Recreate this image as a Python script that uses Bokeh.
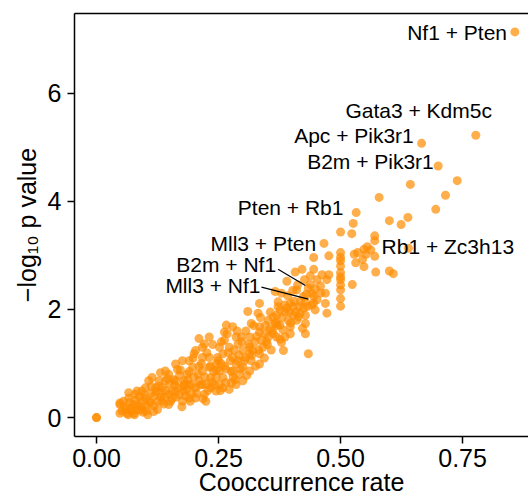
from bokeh.plotting import figure
from bokeh.models import Range1d, FixedTicker, NumeralTickFormatter, LinearAxis, Label
from bokeh.embed import file_html
from bokeh.resources import INLINE

# Co-occurrence rate (x) and -log10 p value (y) for each gene pair
rate = [
    0.857, 0.777, 0.666, 0.700, 0.739, 0.643, 0.715, 0.579, 0.695, 0.532,
    0.526, 0.600, 0.624, 0.638, 0.500, 0.523, 0.570, 0.570, 0.466, 0.555,
    0.548, 0.639, 0.528, 0.535, 0.570, 0.445, 0.476, 0.500, 0.500, 0.531,
    0.548, 0.572, 0.600, 0.608, 0.500, 0.500, 0.524, 0.500, 0.500, 0.472,
    0.469, 0.469, 0.472, 0.445, 0.452, 0.462, 0.421, 0.407, 0.390, 0.410,
    0.434, 0.441, 0.452, 0.428, 0.424, 0.448, 0.428, 0.403, 0.403, 0.390,
    0.379, 0.366, 0.372, 0.376, 0.362, 0.366, 0.376, 0.393, 0.397, 0.410,
    0.428, 0.428, 0.397, 0.386, 0.369, 0.379, 0.383, 0.434, 0.355, 0.352,
    0.334, 0.331, 0.310, 0.317, 0.334, 0.334, 0.338, 0.341, 0.334, 0.334,
    0.314, 0.314, 0.297, 0.290, 0.279, 0.266, 0.262, 0.262, 0.272, 0.279,
    0.286, 0.300, 0.314, 0.300, 0.276, 0.272, 0.279, 0.252, 0.248, 0.231,
    0.217, 0.203, 0.190, 0.231, 0.231, 0.234, 0.234, 0.221, 0.217, 0.210,
    0.203, 0.197, 0.186, 0.179, 0.179, 0.176, 0.162, 0.166, 0.148, 0.141,
    0.162, 0.162, 0.148, 0.131, 0.128, 0.121, 0.117, 0.117, 0.107, 0.100,
    0.093, 0.093, 0.079, 0.076, 0.066, 0.055, 0.048, 0.048, 0.062, 0.076,
    0.090, 0.103, 0.134, 0.148, 0.190, 0.203, 0.224, 0.245, 0.252, 0.252,
    0.259, 0.293, 0.300, 0.317, 0.314, 0.000, 0.210, 0.221, 0.200, 0.176,
    0.141, 0.114, 0.083, 0.066, 0.048, 0.352, 0.369, 0.386, 0.397, 0.414,
    0.459, 0.445, 0.424, 0.438, 0.459, 0.476, 0.441, 0.417, 0.286, 0.259,
    0.245, 0.217, 0.190, 0.217, 0.245, 0.259, 0.286,
    0.070, 0.085, 0.100, 0.110, 0.125, 0.130, 0.140, 0.155, 0.160, 0.170,
    0.185, 0.195, 0.200, 0.210, 0.225, 0.240, 0.255, 0.265, 0.270, 0.280,
    0.290, 0.305, 0.320, 0.325, 0.345, 0.350, 0.360, 0.370, 0.380, 0.395,
    0.405, 0.415, 0.430, 0.095, 0.105, 0.060, 0.080, 0.112, 0.135, 0.150,
    0.170, 0.180, 0.190, 0.000,
    0.052, 0.058, 0.065, 0.068, 0.072, 0.078, 0.082, 0.088, 0.092, 0.098,
    0.102, 0.108, 0.112, 0.118, 0.122, 0.125, 0.128, 0.132, 0.138, 0.142,
    0.145, 0.152, 0.155, 0.158, 0.163, 0.168, 0.172, 0.175, 0.178, 0.182,
    0.187, 0.192, 0.195, 0.198, 0.205, 0.208, 0.212, 0.215, 0.218, 0.222,
    0.226, 0.228, 0.233, 0.236, 0.238, 0.242, 0.246, 0.250, 0.254, 0.256,
    0.262, 0.265, 0.268, 0.274, 0.276, 0.282, 0.284, 0.288, 0.292, 0.295,
    0.298, 0.303, 0.306, 0.308, 0.312, 0.318, 0.322, 0.326, 0.328, 0.332,
    0.336, 0.344, 0.346, 0.348, 0.356, 0.358, 0.362, 0.368, 0.372, 0.376,
    0.382, 0.386, 0.392, 0.398, 0.402, 0.408, 0.412, 0.418, 0.422, 0.426,
    0.432, 0.438, 0.445, 0.448, 0.500, 0.500, 0.500, 0.500, 0.500, 0.562,
    0.552, 0.545,
]
neglog_p = [
    7.13, 5.22, 5.07, 4.65, 4.38, 4.31, 4.11, 4.07, 3.85, 3.79,
    3.59, 3.64, 3.57, 3.70, 3.43, 3.40, 3.36, 3.27, 3.22, 3.16,
    3.11, 3.13, 3.02, 3.05, 2.98, 2.96, 2.99, 2.96, 2.80, 2.86,
    2.79, 2.69, 2.71, 2.66, 2.68, 2.55, 2.46, 2.36, 2.06, 2.55,
    2.30, 2.11, 1.93, 2.74, 2.55, 2.64, 2.74, 2.69, 2.52, 2.36,
    2.39, 2.30, 2.18, 2.14, 2.02, 1.99, 1.89, 2.05, 1.89, 2.02,
    2.30, 2.33, 2.14, 1.99, 1.86, 1.74, 1.71, 1.80, 1.68, 1.80,
    1.74, 1.55, 1.55, 1.49, 1.49, 1.39, 1.24, 1.18, 1.64, 1.49,
    2.11, 1.93, 1.96, 1.74, 1.68, 1.58, 1.43, 1.30, 1.18, 0.99,
    1.49, 1.30, 1.49, 1.36, 1.68, 1.71, 1.58, 1.43, 1.30, 1.11,
    0.99, 1.24, 0.86, 0.68, 0.64, 0.52, 0.86, 1.30, 1.11, 1.49,
    1.30, 1.24, 1.05, 1.11, 0.93, 0.74, 0.55, 0.43, 0.86, 0.68,
    0.55, 0.93, 0.80, 0.68, 0.49, 0.30, 0.99, 0.89, 0.80, 0.68,
    0.68, 0.49, 0.43, 0.83, 0.68, 0.55, 0.39, 0.11, 0.68, 0.55,
    0.49, 0.30, 0.43, 0.24, 0.36, 0.30, 0.24, 0.08, 0.08, 0.08,
    0.14, 0.21, 0.30, 0.24, 0.36, 0.36, 0.30, 0.49, 0.61, 0.86,
    0.74, 0.80, 0.93, 1.05, 1.18, 0.00, 1.46, 1.36, 1.18, 1.05,
    0.86, 0.74, 0.49, 0.46, 0.27, 1.80, 1.89, 2.08, 2.11, 1.86,
    2.30, 2.24, 2.24, 2.46, 2.43, 2.64, 2.08, 1.93, 1.49, 1.18,
    0.99, 1.11, 0.61, 0.61, 0.74, 0.55, 0.61,
    0.18, 0.22, 0.35, 0.27, 0.30, 0.45, 0.38, 0.35, 0.60, 0.42,
    0.52, 0.45, 0.75, 0.95, 0.62, 0.85, 1.00, 0.90, 1.20, 0.75,
    1.05, 1.10, 1.25, 1.40, 1.55, 1.35, 1.60, 1.70, 1.85, 1.95,
    2.15, 2.05, 2.28, 0.10, 0.05, 0.15, 0.32, 0.45, 0.55, 0.62,
    0.78, 0.62, 0.85, 0.00,
    0.12, 0.20, 0.05, 0.28, 0.12, 0.05, 0.15, 0.38, 0.20, 0.42,
    0.12, 0.30, 0.58, 0.22, 0.48, 0.15, 0.58, 0.38, 0.25, 0.50,
    0.72, 0.30, 0.48, 0.70, 0.38, 0.55, 0.88, 0.20, 0.58, 0.40,
    0.70, 0.30, 0.60, 1.10, 0.45, 0.80, 0.60, 1.00, 0.35, 0.75,
    1.20, 0.50, 0.95, 0.65, 1.35, 0.60, 0.88, 1.05, 0.50, 1.40,
    0.95, 0.65, 1.55, 1.05, 0.85, 1.25, 0.70, 1.60, 1.15, 0.90,
    1.40, 1.05, 1.60, 0.78, 1.35, 1.15, 1.70, 0.95, 1.50, 1.25,
    1.85, 1.10, 1.70, 1.40, 1.95, 1.25, 1.55, 1.75, 2.05, 1.45,
    1.62, 1.95, 2.25, 1.75, 2.35, 1.95, 2.45, 2.15, 1.65, 2.55,
    2.05, 2.62, 2.12, 2.38, 2.45, 2.60, 2.90, 3.05, 2.20, 3.10,
    3.02, 2.92,
]

# Annotated gene pairs: label text, label anchor, alignment
label_text = ["Nf1 + Pten", "Gata3 + Kdm5c", "Apc + Pik3r1", "B2m + Pik3r1",
              "Pten + Rb1", "Mll3 + Pten", "Rb1 + Zc3h13", "B2m + Nf1", "Mll3 + Nf1"]
label_x = [0.841, 0.810, 0.650, 0.691, 0.506, 0.450, 0.584, 0.368, 0.336]
label_y = [7.11, 5.675, 5.21, 4.74, 3.89, 3.21, 3.16, 2.83, 2.44]
label_align = ["right", "right", "right", "right", "right", "right", "left", "right", "right"]

# leader lines for the two crowded labels
seg_x0 = [0.372, 0.338]
seg_y0 = [2.74, 2.41]
seg_x1 = [0.428, 0.434]
seg_y1 = [2.44, 2.19]

x_ticks = [0.0, 0.25, 0.5, 0.75]
y_ticks = [0, 2, 4, 6]

FONT = "Liberation Sans"

p = figure(width=528, height=498, output_backend="svg", toolbar_location=None,
           x_range=Range1d(-0.045, 0.885), y_range=Range1d(-0.35, 7.47),
           min_border_left=74, min_border_right=0, min_border_top=13,
           min_border_bottom=62, background_fill_color="white",
           border_fill_color="white")
p.outline_line_color = None
p.xgrid.visible = False
p.ygrid.visible = False

for ax in (p.xaxis[0], p.yaxis[0]):
    ax.axis_line_width = 1.5
    ax.axis_line_color = "black"
    ax.major_tick_line_width = 1.5
    ax.major_tick_line_color = "black"
    ax.major_tick_out = 7
    ax.major_tick_in = 0
    ax.minor_tick_line_color = None
    ax.major_label_text_font = FONT
    ax.major_label_text_font_size = "25px"
    ax.major_label_text_color = "black"
    ax.axis_label_text_font = FONT
    ax.axis_label_text_font_size = "25px"
    ax.axis_label_text_font_style = "normal"
    ax.axis_label_text_color = "black"

p.xaxis[0].ticker = FixedTicker(ticks=x_ticks)
p.xaxis[0].formatter = NumeralTickFormatter(format="0.00")
p.xaxis[0].major_label_standoff = 5
p.xaxis[0].axis_label = "Cooccurrence rate"
p.xaxis[0].axis_label_standoff = -2
p.yaxis[0].ticker = FixedTicker(ticks=y_ticks)
p.yaxis[0].major_label_standoff = 6
p.yaxis[0].axis_label = "\u2212log\u2081\u2080 p value"
p.yaxis[0].axis_label_standoff = 4

top = LinearAxis(ticker=FixedTicker(ticks=[]), axis_line_width=1.5,
                 axis_line_color="black", major_tick_line_color=None,
                 minor_tick_line_color=None, major_label_text_font_size="0px")
p.add_layout(top, "above")

p.scatter(rate, neglog_p, size=9, fill_color="#FF8C00", fill_alpha=0.7,
          line_color=None)

p.segment(seg_x0, seg_y0, seg_x1, seg_y1, line_color="black", line_width=1.2)

for t, lx, ly, al in zip(label_text, label_x, label_y, label_align):
    p.add_layout(Label(x=lx, y=ly, text=t, text_align=al, text_baseline="middle",
                       text_font=FONT, text_font_size="21px", text_color="black"))

open("out.html", "w").write(file_html(p, INLINE))
